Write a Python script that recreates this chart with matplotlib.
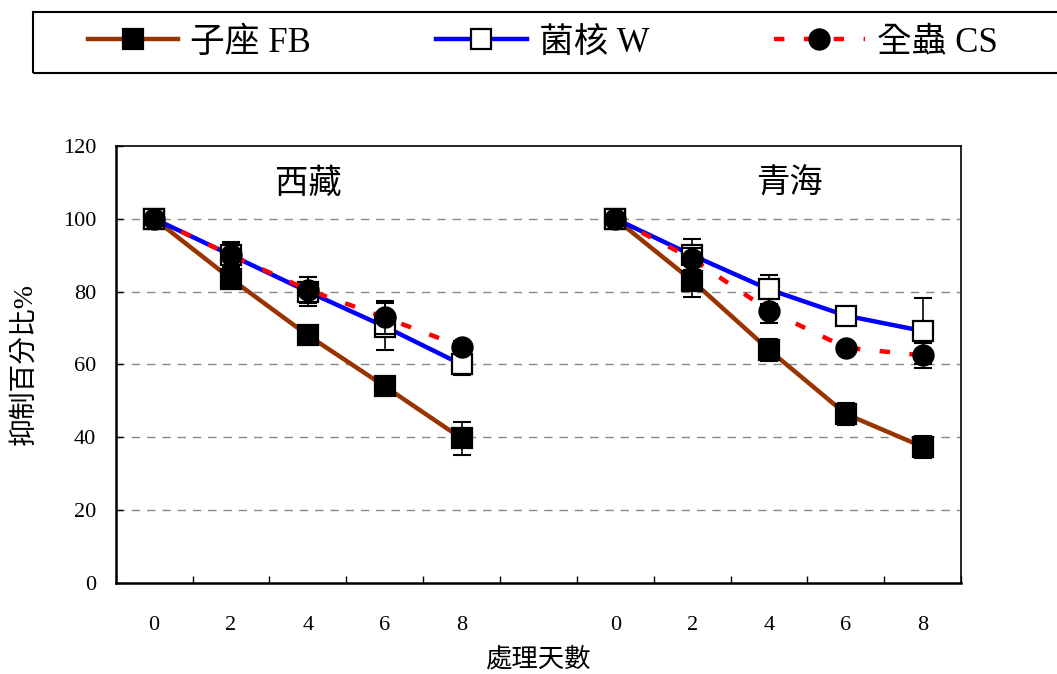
import numpy as np
import matplotlib.pyplot as plt
from matplotlib.patches import Rectangle
from matplotlib.ticker import FixedLocator, NullFormatter

plt.rcParams['font.family'] = ['Liberation Serif', 'Noto Sans CJK TC']
plt.rcParams['lines.scale_dashes'] = False

# 處理天數 (two sites side by side, one empty slot between them)
days = ['0', '2', '4', '6', '8']
tick_labels = days + [''] + days
sites = ['西藏', '青海']

# 西藏
fb_tibet = [100, 83.5, 68.0, 54.0, 39.7]
fb_tibet_err = [0, 1.5, 1.2, 1.0, 4.5]
w_tibet = [100, 90.0, 80.0, 70.4, 60.0]
w_tibet_err = [0, 3.5, 4.0, 6.5, 3.0]
cs_tibet = [100, 90.0, 80.5, 72.9, 64.9]
cs_tibet_err = [0, 3.0, 3.5, 4.5, 1.5]

# 青海
fb_qinghai = [100, 83.0, 64.0, 46.4, 37.4]
fb_qinghai_err = [0, 4.4, 3.0, 3.0, 3.0]
w_qinghai = [100, 90.0, 80.6, 73.4, 69.2]
w_qinghai_err = [0, 4.4, 4.0, 1.0, 9.0]
cs_qinghai = [100, 89.0, 74.8, 64.6, 62.5]
cs_qinghai_err = [0, 3.0, 3.3, 1.0, 3.4]


def join(a, b):
    return np.array(list(a) + [np.nan] + list(b), dtype=float)


x = np.arange(len(tick_labels))
series = [
    ('子座 FB', join(fb_tibet, fb_qinghai), join(fb_tibet_err, fb_qinghai_err),
     dict(color='#993300', ls='-', marker='s', mfc='black', mec='black')),
    ('菌核 W', join(w_tibet, w_qinghai), join(w_tibet_err, w_qinghai_err),
     dict(color='#0000FF', ls='-', marker='s', mfc='white', mec='black')),
    ('全蟲 CS', join(cs_tibet, cs_qinghai), join(cs_tibet_err, cs_qinghai_err),
     dict(color='#FF0000', ls=(0, (7.5, 14)), marker='o', mfc='black', mec='black')),
]

fig = plt.figure(figsize=(10.57, 6.74), dpi=100)
ax = fig.add_axes([0.1095, 0.135, 0.7998, 0.6485])

handles = []
for i, (label, y, err, style) in enumerate(series):
    ax.errorbar(x, y, yerr=err, fmt='none', ecolor='black', elinewidth=1.2,
                capsize=6.8, capthick=1.5, zorder=2 + i)
    ln, = ax.plot(x, y, lw=3.2, ms=14.5, mew=1.6, label=label, zorder=3 + i,
                  **style)
    handles.append(ln)

ax.set_xlim(-0.5, 10.5)
ax.set_ylim(0, 120)
ax.set_yticks(np.arange(0, 121, 20))
ax.set_xticks(x)
ax.set_xticklabels(tick_labels)
ax.xaxis.set_minor_locator(FixedLocator(np.arange(-0.5, 11, 1)))
ax.xaxis.set_minor_formatter(NullFormatter())
ax.tick_params(axis='x', which='major', length=0, pad=24, labelsize=16)
ax.tick_params(axis='x', which='minor', direction='in', length=5, width=1)
ax.tick_params(axis='y', direction='in', length=5, width=1, pad=14, labelsize=16)
for yv in range(20, 120, 20):
    ax.axhline(yv, color='#888888', lw=1, ls=(0, (6, 5)), zorder=1)
for side in ['left', 'bottom']:
    ax.spines[side].set_linewidth(1.8)
for side in ['right', 'top']:
    ax.spines[side].set_linewidth(1.2)

ax.set_ylabel('抑制百分比%', fontsize=20)
ax.yaxis.set_label_coords(-0.093, 0.5)
ax.set_xlabel('處理天數', fontsize=19, labelpad=8)

ax.text(2, 109.5, sites[0], fontsize=24, ha='center', va='center')
ax.text(8.27, 109.5, sites[1], fontsize=24, ha='center', va='center')

# legend box runs off the right edge of the figure
fig.patches.append(Rectangle((33 / 1057, 1 - 73 / 674), 1.1, 61 / 674,
                             transform=fig.transFigure, fill=False,
                             edgecolor='black', lw=1.5))
fig.legend(handles=handles, loc='center left', ncol=3,
           bbox_to_anchor=(88 / 1057, 1 - 43 / 674),
           fontsize=25, frameon=False, handlelength=2.6,
           handletextpad=0.35, columnspacing=3.6, borderaxespad=0,
           borderpad=0)

fig.savefig('out.png', dpi=100)
